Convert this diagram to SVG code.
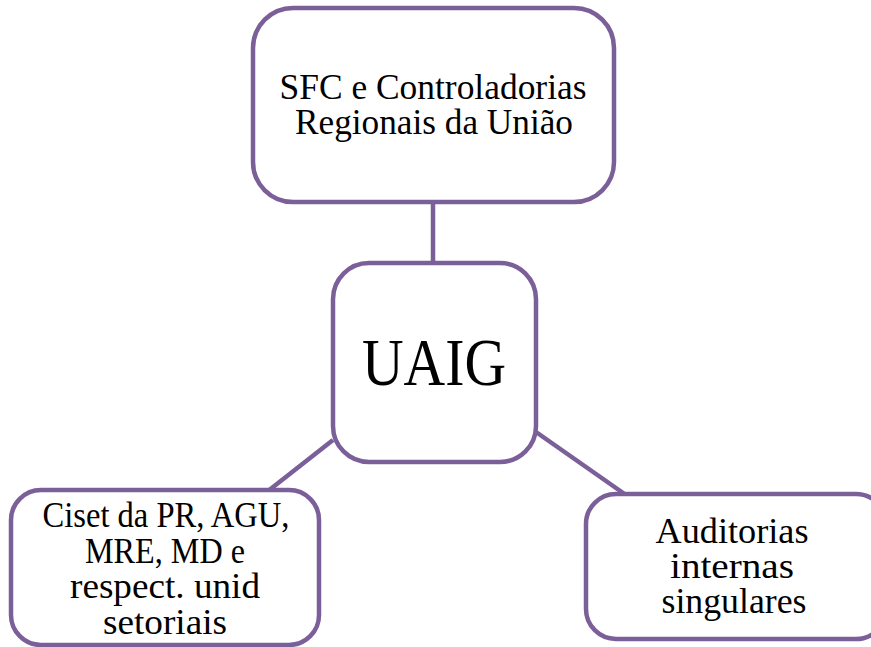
<svg xmlns="http://www.w3.org/2000/svg" width="871" height="647" viewBox="0 0 871 647">
<style>
.box{fill:#fff;stroke:#7B5F99;stroke-width:4.5}
.ln{stroke:#7B5F99;stroke-width:4.5;fill:none}
.t{font-family:"Liberation Serif","DejaVu Serif",serif;font-size:35px;fill:#000;text-anchor:middle}
.big{font-size:68px}
</style>
<rect width="871" height="647" fill="#fff"/>
<g id="connectors">
<line class="ln" x1="433" y1="203" x2="433" y2="264"/>
<line class="ln" x1="333" y1="440" x2="268" y2="491"/>
<line class="ln" x1="536" y1="432" x2="626" y2="495"/>
</g>
<g id="top">
<rect class="box" x="253" y="8" width="361" height="194" rx="40"/>
<text class="t" x="433" y="99" textLength="307" lengthAdjust="spacingAndGlyphs">SFC e Controladorias</text>
<text class="t" x="434" y="134" textLength="278" lengthAdjust="spacingAndGlyphs">Regionais da União</text>
</g>
<g id="center">
<rect class="box" x="333" y="263" width="203" height="199" rx="36"/>
<text class="t big" x="434" y="385" textLength="144" lengthAdjust="spacingAndGlyphs">UAIG</text>
</g>
<g id="left">
<rect class="box" x="11" y="490" width="308" height="155" rx="30"/>
<text class="t" x="166" y="527" textLength="247" lengthAdjust="spacingAndGlyphs">Ciset da PR, AGU,</text>
<text class="t" x="165" y="563" textLength="160" lengthAdjust="spacingAndGlyphs">MRE, MD e</text>
<text class="t" x="165" y="598" textLength="190" lengthAdjust="spacingAndGlyphs">respect. unid</text>
<text class="t" x="165" y="634" textLength="124" lengthAdjust="spacingAndGlyphs">setoriais</text>
</g>
<g id="right">
<rect class="box" x="586" y="494" width="300" height="145" rx="30"/>
<text class="t" x="732" y="543" textLength="153" lengthAdjust="spacingAndGlyphs">Auditorias</text>
<text class="t" x="732" y="578" textLength="124" lengthAdjust="spacingAndGlyphs">internas</text>
<text class="t" x="734" y="613" textLength="145" lengthAdjust="spacingAndGlyphs">singulares</text>
</g>
</svg>
